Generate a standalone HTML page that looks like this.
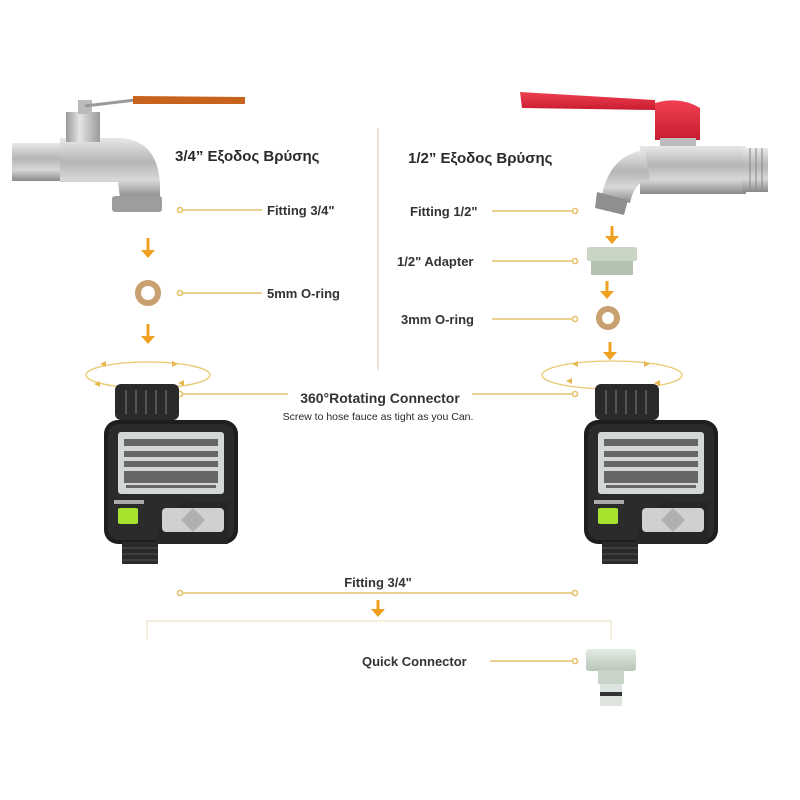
<!DOCTYPE html>
<html><head><meta charset="utf-8"><style>
html,body{margin:0;padding:0;background:#fff}
svg{display:block}
text{font-family:"Liberation Sans",Arial,sans-serif;fill:#2a2a2a}
.b{font-weight:bold}
.l{font-weight:bold;fill:#333}
</style></head><body>
<svg width="800" height="800" viewBox="0 0 800 800" xmlns="http://www.w3.org/2000/svg">
<defs>
<linearGradient id="met" x1="0" y1="0" x2="0" y2="1">
<stop offset="0" stop-color="#e8e8e8"/><stop offset="0.4" stop-color="#b5b5b5"/><stop offset="0.7" stop-color="#d8d8d8"/><stop offset="1" stop-color="#8a8a8a"/></linearGradient>
<linearGradient id="metv" x1="0" y1="0" x2="1" y2="0">
<stop offset="0" stop-color="#999"/><stop offset="0.4" stop-color="#e5e5e5"/><stop offset="1" stop-color="#9a9a9a"/></linearGradient>
<linearGradient id="red" x1="0" y1="0" x2="0" y2="1"><stop offset="0" stop-color="#f04050"/><stop offset="1" stop-color="#c81c30"/></linearGradient>
<linearGradient id="grn" x1="0" y1="0" x2="0" y2="1"><stop offset="0" stop-color="#e4ece4"/><stop offset="1" stop-color="#b8c6b8"/></linearGradient>
<g id="timer">
<rect x="11" y="0" width="64" height="36" rx="6" fill="#2a2a2a"/>
<g stroke="#555" stroke-width="2"><line x1="22" y1="6" x2="22" y2="30"/><line x1="32" y1="6" x2="32" y2="30"/><line x1="42" y1="6" x2="42" y2="30"/><line x1="52" y1="6" x2="52" y2="30"/><line x1="62" y1="6" x2="62" y2="30"/></g>
<rect x="0" y="36" width="134" height="124" rx="14" fill="#1e1e1e"/>
<rect x="4" y="40" width="126" height="116" rx="11" fill="#2b2b2b"/>
<rect x="14" y="48" width="106" height="62" rx="3" fill="#d4d8d4"/>
<g fill="#666"><rect x="20" y="55" width="94" height="7"/><rect x="20" y="67" width="94" height="6"/><rect x="20" y="77" width="94" height="6"/><rect x="20" y="87" width="94" height="12"/><rect x="22" y="101" width="90" height="3"/></g>
<rect x="10" y="116" width="30" height="4" fill="#aaa"/>
<rect x="14" y="124" width="20" height="16" rx="2" fill="#a6e22e"/>
<path d="M50 160 Q60 120 90 118 L124 118 L124 160 Z" fill="#262626"/>
<rect x="58" y="124" width="62" height="24" rx="4" fill="#d0d0d0"/>
<path d="M89 124 L101 136 L89 148 L77 136 Z" fill="#b0b0b0"/>
<rect x="18" y="158" width="36" height="22" fill="#2a2a2a"/>
<g stroke="#444" stroke-width="1.5"><line x1="18" y1="164" x2="54" y2="164"/><line x1="18" y1="170" x2="54" y2="170"/><line x1="18" y1="176" x2="54" y2="176"/></g>
</g>
</defs>

<line x1="378" y1="128" x2="378" y2="370" stroke="#e6dcc4" stroke-width="1.5"/>

<rect x="12" y="143" width="60" height="38" fill="url(#met)"/>
<path d="M60 138 L120 138 Q158 140 160 185 L160 198 L120 198 L118 182 L60 182 Z" fill="url(#met)"/>
<rect x="112" y="196" width="50" height="16" rx="3" fill="#9d9d9d"/>
<rect x="66" y="112" width="34" height="30" fill="url(#metv)"/>
<rect x="78" y="100" width="14" height="14" fill="#bbb"/>
<path d="M85 106 L135 100" stroke="#999" stroke-width="3"/>
<path d="M133 96 L245 97 L245 104 L133 104 Z" fill="#c8631e"/>

<path d="M520 92 L655 100 L655 110 L522 108 Z" fill="url(#red)"/>
<path d="M655 103 Q680 96 700 108 L700 140 L655 140 Z" fill="url(#red)"/>
<rect x="660" y="138" width="36" height="12" fill="#bbb"/>
<rect x="640" y="146" width="106" height="48" fill="url(#met)"/>
<rect x="742" y="148" width="26" height="44" fill="url(#met)"/>
<g stroke="#888" stroke-width="1"><line x1="750" y1="148" x2="750" y2="192"/><line x1="756" y1="148" x2="756" y2="192"/><line x1="762" y1="148" x2="762" y2="192"/></g>
<path d="M645 150 Q610 155 602 195 L630 203 Q635 180 650 180 Z" fill="url(#met)"/>
<path d="M597 192 L628 200 L624 215 L595 208 Z" fill="#8f8f8f"/>

<text x="175" y="161" class="b" font-size="15">3/4” Εξοδος Βρύσης</text>
<text x="408" y="163" class="b" font-size="15">1/2” Εξοδος Βρύσης</text>

<g stroke="#e3c26a" stroke-width="1.6" fill="#fff">
<line x1="180" y1="210" x2="262" y2="210"/><circle cx="180" cy="210" r="2.5"/>
<line x1="180" y1="293" x2="262" y2="293"/><circle cx="180" cy="293" r="2.5"/>
<line x1="180" y1="394" x2="288" y2="394"/><circle cx="180" cy="394" r="2.5"/>
<line x1="472" y1="394" x2="575" y2="394"/><circle cx="575" cy="394" r="2.5"/>
<line x1="492" y1="211" x2="575" y2="211"/><circle cx="575" cy="211" r="2.5"/>
<line x1="492" y1="261" x2="575" y2="261"/><circle cx="575" cy="261" r="2.5"/>
<line x1="492" y1="319" x2="575" y2="319"/><circle cx="575" cy="319" r="2.5"/>
<line x1="180" y1="593" x2="575" y2="593"/><circle cx="180" cy="593" r="2.5"/><circle cx="575" cy="593" r="2.5"/>
<line x1="490" y1="661" x2="575" y2="661"/><circle cx="575" cy="661" r="2.5"/>
</g>
<g stroke="#efe4c8" stroke-width="1.2" fill="none"><path d="M147 640 L147 621 L611 621 L611 640"/></g>

<text x="267" y="215" class="l" font-size="13">Fitting 3/4"</text>
<text x="267" y="298" class="l" font-size="13">5mm O-ring</text>
<text x="410" y="216" class="l" font-size="13">Fitting 1/2"</text>
<text x="397" y="266" class="l" font-size="13">1/2" Adapter</text>
<text x="401" y="324" class="l" font-size="13">3mm O-ring</text>
<text x="380" y="403" class="l" font-size="14" text-anchor="middle">360°Rotating Connector</text>
<text x="378" y="420" font-size="10.5" text-anchor="middle">Screw to hose fauce as tight as you Can.</text>
<text x="378" y="587" class="l" font-size="13" text-anchor="middle">Fitting 3/4"</text>
<text x="362" y="666" class="l" font-size="13">Quick Connector</text>

<g fill="#f0a020" stroke="#f0a020" stroke-width="3">
<line x1="148" y1="238" x2="148" y2="250"/><path d="M141 250 L155 250 L148 258 Z" stroke="none"/>
<line x1="148" y1="324" x2="148" y2="336"/><path d="M141 336 L155 336 L148 344 Z" stroke="none"/>
<line x1="612" y1="226" x2="612" y2="236"/><path d="M605 236 L619 236 L612 244 Z" stroke="none"/>
<line x1="607" y1="281" x2="607" y2="291"/><path d="M600 291 L614 291 L607 299 Z" stroke="none"/>
<line x1="610" y1="342" x2="610" y2="352"/><path d="M603 352 L617 352 L610 360 Z" stroke="none"/>
<line x1="378" y1="600" x2="378" y2="609"/><path d="M371 609 L385 609 L378 617 Z" stroke="none"/>
</g>

<g fill="none" stroke="#e8c870" stroke-width="1.3">
<ellipse cx="148" cy="375" rx="62" ry="13"/>
<ellipse cx="612" cy="375" rx="70" ry="14"/>
</g>
<g fill="#e8b850">
<path d="M100 364 l6 -3 l0 6 z"/><path d="M172 361 l6 3 l-6 3 z"/><path d="M100 387 l-6 -3 l6 -3z"/><path d="M184 386 l-6 -3 l6 -3z"/>
<path d="M572 364 l6 -3 l0 6 z"/><path d="M644 361 l6 3 l-6 3 z"/><path d="M572 384 l-6 -3 l6 -3z"/><path d="M660 386 l-6 -3 l6 -3z"/>
</g>

<circle cx="148" cy="293" r="10" fill="none" stroke="#c9a070" stroke-width="6"/>
<circle cx="608" cy="318" r="9" fill="none" stroke="#c9a070" stroke-width="6"/>

<rect x="587" y="247" width="50" height="14" rx="2" fill="#c8d4c4"/>
<rect x="591" y="261" width="42" height="14" fill="#b4c2b0"/>

<use href="#timer" x="104" y="384"/>
<use href="#timer" x="584" y="384"/>

<rect x="586" y="649" width="50" height="22" rx="3" fill="url(#grn)"/>
<rect x="598" y="670" width="26" height="14" fill="#c8d4c8"/>
<rect x="600" y="684" width="22" height="8" fill="#dde4dd"/>
<rect x="600" y="692" width="22" height="4" fill="#333"/>
<rect x="600" y="696" width="22" height="10" fill="#dde4dd"/>
</svg>
</body></html>
